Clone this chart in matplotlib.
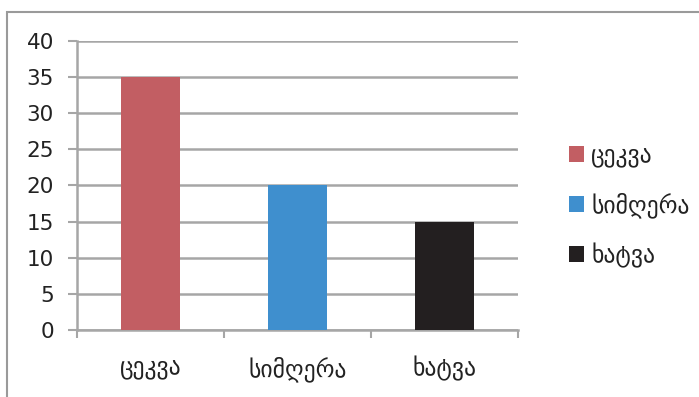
import numpy as np
import matplotlib.pyplot as plt
from matplotlib.patches import Rectangle

categories = ["ცეკვა", "სიმღერა", "ხატვა"]
values = [35, 20, 15]
colors = ["#C25E63", "#3F8FCE", "#231F20"]
yticks = [0, 5, 10, 15, 20, 25, 30, 35, 40]

plt.rcParams['font.family'] = ['DejaVu Sans']
grid_gray = "#A6A6A6"

fig = plt.figure(figsize=(6.99, 3.97), dpi=100)
ax = fig.add_axes([0.110, 0.169, 0.631, 0.728])

# outer chart frame (only top/left edges are visible)
fig.patches.append(Rectangle((0.010, -0.1), 1.2, 0.1 + 0.970, transform=fig.transFigure,
                             fill=False, edgecolor="#9A9A9A", linewidth=1.5))

x = np.arange(len(categories))
for i in range(len(categories)):
    ax.bar(x[i], values[i], width=0.4, color=colors[i], label=categories[i], zorder=3)

ax.set_xlim(-0.5, len(categories) - 0.5)
ax.set_ylim(0, 40)
ax.set_yticks(yticks)
ax.yaxis.grid(True, color=grid_gray, linewidth=1.8, zorder=0)

ax.set_xticks(x)
ax.set_xticklabels(categories, fontsize=17, color="#222222")
ax.set_xticks(np.arange(-0.5, len(categories)), minor=True)
ax.tick_params(axis='x', which='major', length=0, pad=19)
ax.tick_params(axis='x', which='minor', length=6, width=1.5, color=grid_gray)
ax.tick_params(axis='y', length=6.5, width=1.5, color=grid_gray, labelsize=15.5, pad=10,
               labelcolor="#222222")

for s in ["top", "right"]:
    ax.spines[s].set_visible(False)
for s in ["left", "bottom"]:
    ax.spines[s].set_color(grid_gray)
    ax.spines[s].set_linewidth(1.8)

leg = ax.legend(loc="center left", bbox_to_anchor=(0.800, 0.482), bbox_transform=fig.transFigure,
                frameon=False, fontsize=17, handlelength=0.65, handleheight=0.65,
                handletextpad=0.3, labelspacing=1.05, borderaxespad=0)
for t in leg.get_texts():
    t.set_color("#222222")

fig.savefig("out.png", dpi=100)
